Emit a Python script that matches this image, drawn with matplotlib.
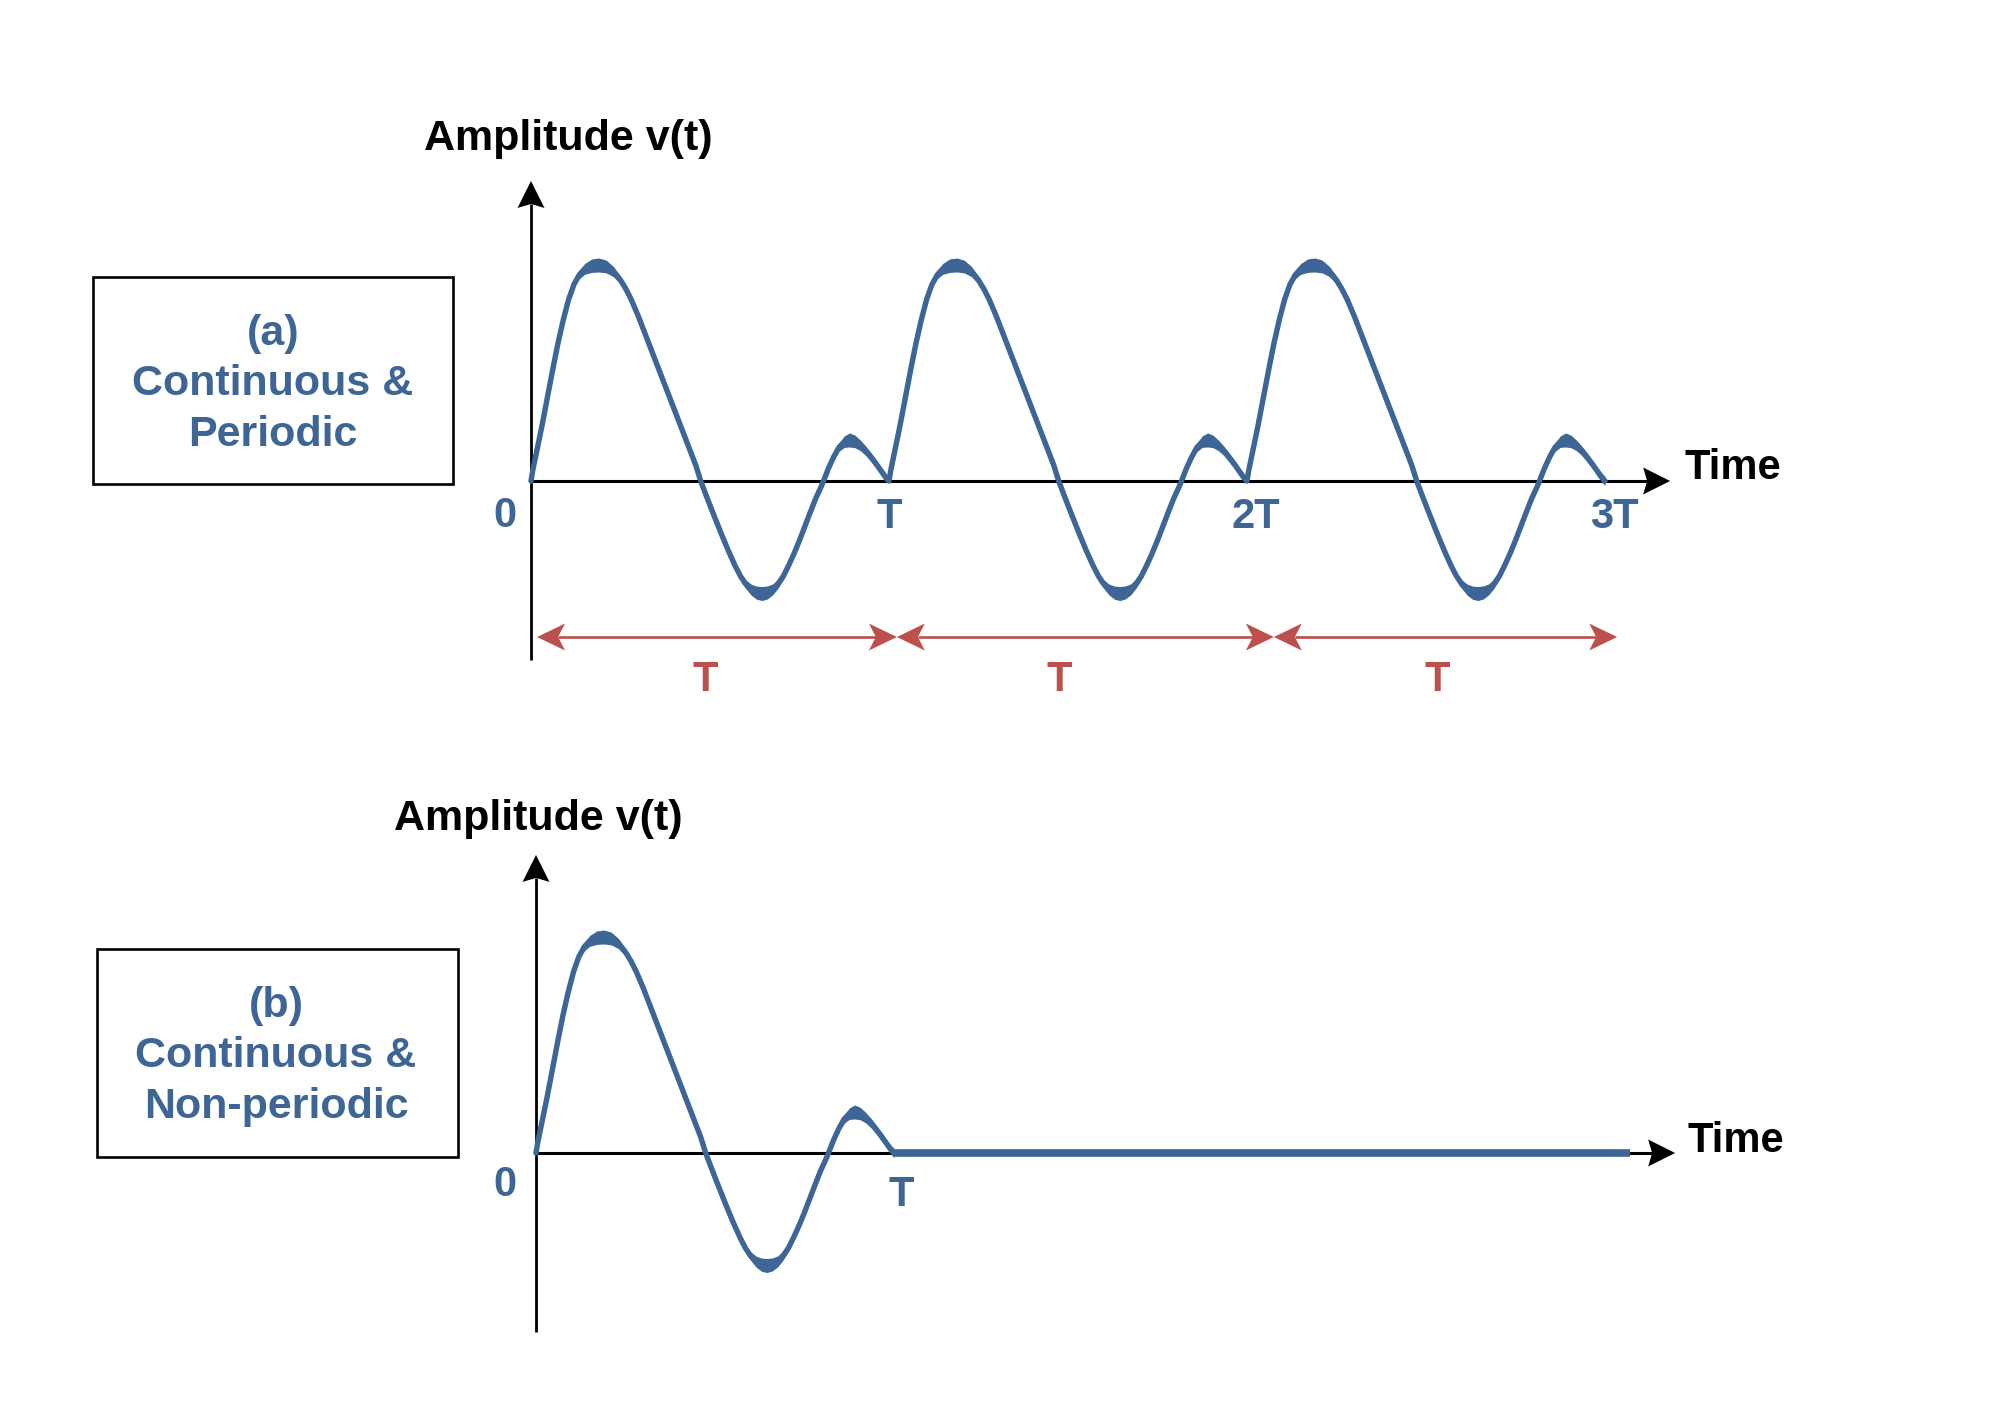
import numpy as np
import matplotlib
matplotlib.use("Agg")
import matplotlib.pyplot as plt
from matplotlib.patches import Rectangle, Polygon
import matplotlib.transforms as mtrans

plt.rcParams['font.family'] = ['Liberation Sans', 'DejaVu Sans']

# ---------------- data ----------------
# one period of the waveform: time in units of T, amplitude normalised to the main peak
wave_t = [0.000, 0.005, 0.015, 0.030, 0.045, 0.060, 0.075, 0.090, 0.105, 0.120,
          0.135, 0.150, 0.170, 0.190, 0.210, 0.230, 0.250, 0.265, 0.280, 0.300,
          0.320, 0.340, 0.360, 0.380, 0.400, 0.420, 0.440, 0.460, 0.474, 0.490,
          0.510, 0.530, 0.550, 0.570, 0.585, 0.600, 0.615, 0.630, 0.645, 0.660,
          0.675, 0.690, 0.705, 0.720, 0.735, 0.750, 0.765, 0.780, 0.795, 0.810,
          0.817, 0.830, 0.845, 0.860, 0.875, 0.890, 0.905, 0.920, 0.935, 0.950,
          0.965, 0.980, 0.990, 1.000]
wave_v = [0.000, 0.050, 0.130, 0.250, 0.380, 0.510, 0.635, 0.745, 0.840, 0.910,
          0.955, 0.982, 0.997, 1.000, 0.993, 0.970, 0.930, 0.889, 0.840, 0.762,
          0.676, 0.590, 0.504, 0.418, 0.332, 0.246, 0.160, 0.074, 0.000, -0.070,
          -0.155, -0.238, -0.318, -0.392, -0.440, -0.478, -0.503, -0.517, -0.521, -0.516,
          -0.502, -0.476, -0.440, -0.390, -0.335, -0.275, -0.210, -0.145, -0.082, -0.028,
          0.000, 0.055, 0.110, 0.155, 0.182, 0.190, 0.183, 0.165, 0.140, 0.110,
          0.077, 0.042, 0.018, 0.000]

periods_a = [0, 1, 2]                 # start of each repeated period in panel (a)
periods_b = [0]                       # panel (b): a single pulse
tick_pos_a = [1.0, 2.025, 3.025]
tick_lab_a = ['T', '2T', '3T']
tick_pos_b = [1.019]
tick_lab_b = ['T']
span_start = [0.017, 1.022, 2.075]    # red period arrows (as drawn)
span_end = [1.022, 2.075, 3.034]
span_lab_pos = [0.486, 1.475, 2.531]
span_lab = ['T', 'T', 'T']
flat_b_t = [1.0, 3.056]               # zero level after the pulse in (b)
flat_b_v = [0.0, 0.0]

BLUE = '#3D6595'
RED = '#BD504D'
W, H = 1989, 1409

fig = plt.figure(figsize=(W / 100, H / 100), dpi=100)

ax_px = fig.add_axes([0, 0, 1, 1])
ax_px.set_xlim(0, W)
ax_px.set_ylim(H, 0)
ax_px.axis('off')
ax_px.patch.set_visible(False)

PX_T, PX_V = 358.0, 216.0


def panel_axes(x0, y0):
    ax = fig.add_axes([0, 0, 1, 1])
    ax.set_xlim(-x0 / PX_T, (W - x0) / PX_T)
    ax.set_ylim((y0 - H) / PX_V, y0 / PX_V)
    ax.axis('off')
    ax.patch.set_visible(False)
    return ax


def arrow_head(ax, x, y, angle, L, Wd, notch, color):
    verts = np.array([[0, 0], [-L, Wd / 2], [-L + notch, 0], [-L, -Wd / 2]]) / 100.0
    c, s = np.cos(np.radians(angle)), np.sin(np.radians(angle))
    R = np.array([[c, -s], [s, c]])
    verts = verts @ R.T
    tr = fig.dpi_scale_trans + mtrans.ScaledTranslation(x, y, ax.transData)
    p = Polygon(verts, closed=True, transform=tr, facecolor=color, edgecolor='none', zorder=6)
    fig.add_artist(p)


def draw_wave(ax, starts):
    t = np.concatenate([np.array(wave_t[(1 if i else 0):]) + s for i, s in enumerate(starts)])
    v = np.concatenate([np.array(wave_v[(1 if i else 0):]) for i, s in enumerate(starts)])
    slope = np.gradient(v, t) * (PX_V / PX_T)
    cos = 1.0 / np.sqrt(1.0 + slope ** 2)
    d = 7.0 * cos / PX_V
    ax.fill_between(t, v - d, v + d, color=BLUE, lw=0, zorder=4)
    ax.plot(t, v, color=BLUE, lw=3.9, solid_joinstyle='round', solid_capstyle='round', zorder=4)


def draw_axes(ax, v_bot, v_top, t_end):
    L, Wd, n = 27, 27, 4
    ax.plot([0, 0], [v_bot, v_top - (L - n) / PX_V], color='black', lw=2.0, zorder=3,
            solid_capstyle='butt')
    arrow_head(ax, 0, v_top, 90, L, Wd, n, 'black')
    ax.plot([0, t_end - (L - n) / PX_T], [0, 0], color='black', lw=2.2, zorder=3,
            solid_capstyle='butt')
    arrow_head(ax, t_end, 0, 0, L, Wd, n, 'black')


# ---------------- panel (a) ----------------
ax_a = panel_axes(531, 481)
draw_axes(ax_a, -0.829, 1.389, 3.182)
draw_wave(ax_a, periods_a)
for p, lab in zip(tick_pos_a, tick_lab_a):
    ax_a.text(p, (481 - 528) / PX_V, lab, color=BLUE, fontsize=30, fontweight='bold',
              ha='center', va='baseline')
v_span = (481 - 637) / PX_V
for s0, s1 in zip(span_start, span_end):
    Lr, Wr, nr = 28, 27, 7
    ax_a.plot([s0 + (Lr - nr) / PX_T, s1 - (Lr - nr) / PX_T], [v_span, v_span],
              color=RED, lw=1.9, solid_capstyle='butt', zorder=3)
    arrow_head(ax_a, s0, v_span, 180, Lr, Wr, nr, RED)
    arrow_head(ax_a, s1, v_span, 0, Lr, Wr, nr, RED)
for p, lab in zip(span_lab_pos, span_lab):
    ax_a.text(p, (481 - 691) / PX_V, lab, color=RED, fontsize=30, fontweight='bold',
              ha='center', va='baseline')

# ---------------- panel (b) ----------------
ax_b = panel_axes(536, 1153)
draw_axes(ax_b, -0.829, 1.380, 3.182)
ax_b.plot(flat_b_t, flat_b_v, color=BLUE, lw=5.5, solid_capstyle='butt', zorder=4)
draw_wave(ax_b, periods_b)
for p, lab in zip(tick_pos_b, tick_lab_b):
    ax_b.text(p, (1153 - 1206) / PX_V, lab, color=BLUE, fontsize=30, fontweight='bold',
              ha='center', va='baseline')

# ---------------- labels / boxes ----------------
txt = dict(fontsize=30, fontweight='bold', va='baseline')
big = dict(fontsize=31, fontweight='bold', va='baseline')
ax_px.text(568, 150, 'Amplitude v(t)', color='black', ha='center', **big)
ax_px.text(538, 830, 'Amplitude v(t)', color='black', ha='center', **big)
ax_px.text(1685, 479, 'Time', color='black', ha='left', **txt)
ax_px.text(1688, 1152, 'Time', color='black', ha='left', **txt)
ax_px.text(505, 527, '0', color=BLUE, ha='center', **txt)
ax_px.text(505, 1196, '0', color=BLUE, ha='center', **txt)

ax_px.add_patch(Rectangle((93, 277), 360, 207, fill=False, ec='black', lw=1.9))
ax_px.add_patch(Rectangle((97, 949), 361, 208, fill=False, ec='black', lw=1.9))
for y, s in zip([345, 395, 446], ['(a)', 'Continuous &', 'Periodic']):
    ax_px.text(273, y, s, color=BLUE, ha='center', **big)
for y, s in zip([1017, 1067, 1118], ['(b)', 'Continuous &', 'Non-periodic']):
    ax_px.text(276, y, s, color=BLUE, ha='center', **big)

fig.savefig('out.png', dpi=100, facecolor='white')
